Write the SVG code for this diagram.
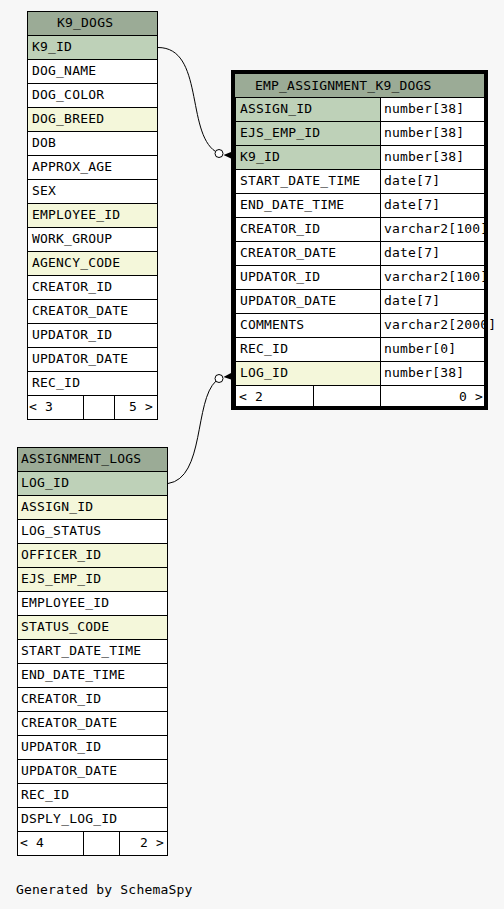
<svg xmlns="http://www.w3.org/2000/svg" width="504" height="909" viewBox="0 0 504 909">
<style>
text{font-family:"DejaVu Sans Mono","Liberation Mono",monospace;font-size:13px;letter-spacing:0.2px;fill:#000}
.c{stroke:#000;stroke-width:1}
.h{fill:#9bab96}
.p{fill:#bed1b8}
.i{fill:#f4f7da}
.w{fill:#ffffff}
.e{fill:none;stroke:#000;stroke-width:1}
.end{text-anchor:end}
</style>
<rect width="504" height="909" fill="#f7f7f7"/>
<g id="K9_DOGS">
<rect class="c h" x="27.5" y="11.5" width="130" height="24"/>
<text x="57" y="27">K9_DOGS</text>
<rect class="c p" x="27.5" y="35.5" width="130" height="24"/><text x="32" y="51">K9_ID</text>
<rect class="c w" x="27.5" y="59.5" width="130" height="24"/><text x="32" y="75">DOG_NAME</text>
<rect class="c w" x="27.5" y="83.5" width="130" height="24"/><text x="32" y="99">DOG_COLOR</text>
<rect class="c i" x="27.5" y="107.5" width="130" height="24"/><text x="32" y="123">DOG_BREED</text>
<rect class="c w" x="27.5" y="131.5" width="130" height="24"/><text x="32" y="147">DOB</text>
<rect class="c w" x="27.5" y="155.5" width="130" height="24"/><text x="32" y="171">APPROX_AGE</text>
<rect class="c w" x="27.5" y="179.5" width="130" height="24"/><text x="32" y="195">SEX</text>
<rect class="c i" x="27.5" y="203.5" width="130" height="24"/><text x="32" y="219">EMPLOYEE_ID</text>
<rect class="c w" x="27.5" y="227.5" width="130" height="24"/><text x="32" y="243">WORK_GROUP</text>
<rect class="c i" x="27.5" y="251.5" width="130" height="24"/><text x="32" y="267">AGENCY_CODE</text>
<rect class="c w" x="27.5" y="275.5" width="130" height="24"/><text x="32" y="291">CREATOR_ID</text>
<rect class="c w" x="27.5" y="299.5" width="130" height="24"/><text x="32" y="315">CREATOR_DATE</text>
<rect class="c w" x="27.5" y="323.5" width="130" height="24"/><text x="32" y="339">UPDATOR_ID</text>
<rect class="c w" x="27.5" y="347.5" width="130" height="24"/><text x="32" y="363">UPDATOR_DATE</text>
<rect class="c w" x="27.5" y="371.5" width="130" height="24"/><text x="32" y="387">REC_ID</text>
<rect class="c w" x="27.5" y="395.5" width="56" height="24"/>
<rect class="c w" x="83.5" y="395.5" width="31" height="24"/>
<rect class="c w" x="114.5" y="395.5" width="43" height="24"/>
<text x="29" y="411">&lt; 3</text>
<text class="end" x="153" y="411">5 &gt;</text>
</g>
<g id="ASSIGNMENT_LOGS">
<rect class="c h" x="17.5" y="447.5" width="150" height="24"/>
<text x="21" y="463">ASSIGNMENT_LOGS</text>
<rect class="c p" x="17.5" y="471.5" width="150" height="24"/><text x="21" y="487">LOG_ID</text>
<rect class="c i" x="17.5" y="495.5" width="150" height="24"/><text x="21" y="511">ASSIGN_ID</text>
<rect class="c w" x="17.5" y="519.5" width="150" height="24"/><text x="21" y="535">LOG_STATUS</text>
<rect class="c i" x="17.5" y="543.5" width="150" height="24"/><text x="21" y="559">OFFICER_ID</text>
<rect class="c i" x="17.5" y="567.5" width="150" height="24"/><text x="21" y="583">EJS_EMP_ID</text>
<rect class="c w" x="17.5" y="591.5" width="150" height="24"/><text x="21" y="607">EMPLOYEE_ID</text>
<rect class="c i" x="17.5" y="615.5" width="150" height="24"/><text x="21" y="631">STATUS_CODE</text>
<rect class="c w" x="17.5" y="639.5" width="150" height="24"/><text x="21" y="655">START_DATE_TIME</text>
<rect class="c w" x="17.5" y="663.5" width="150" height="24"/><text x="21" y="679">END_DATE_TIME</text>
<rect class="c w" x="17.5" y="687.5" width="150" height="24"/><text x="21" y="703">CREATOR_ID</text>
<rect class="c w" x="17.5" y="711.5" width="150" height="24"/><text x="21" y="727">CREATOR_DATE</text>
<rect class="c w" x="17.5" y="735.5" width="150" height="24"/><text x="21" y="751">UPDATOR_ID</text>
<rect class="c w" x="17.5" y="759.5" width="150" height="24"/><text x="21" y="775">UPDATOR_DATE</text>
<rect class="c w" x="17.5" y="783.5" width="150" height="24"/><text x="21" y="799">REC_ID</text>
<rect class="c w" x="17.5" y="807.5" width="150" height="24"/><text x="21" y="823">DSPLY_LOG_ID</text>
<rect class="c w" x="17.5" y="831.5" width="66" height="24"/>
<rect class="c w" x="83.5" y="831.5" width="36" height="24"/>
<rect class="c w" x="119.5" y="831.5" width="48" height="24"/>
<text x="20" y="847">&lt; 4</text>
<text class="end" x="164" y="847">2 &gt;</text>
</g>
<g id="EMP_ASSIGNMENT_K9_DOGS">
<rect class="h" x="235" y="74" width="249" height="23.5"/>
<text x="255" y="90">EMP_ASSIGNMENT_K9_DOGS</text>
<rect class="c p" x="235.5" y="97.5" width="145" height="24"/><rect class="c w" x="380.5" y="97.5" width="104" height="24"/>
<text x="240" y="113">ASSIGN_ID</text><text x="384" y="113">number[38]</text>
<rect class="c p" x="235.5" y="121.5" width="145" height="24"/><rect class="c w" x="380.5" y="121.5" width="104" height="24"/>
<text x="240" y="137">EJS_EMP_ID</text><text x="384" y="137">number[38]</text>
<rect class="c p" x="235.5" y="145.5" width="145" height="24"/><rect class="c w" x="380.5" y="145.5" width="104" height="24"/>
<text x="240" y="161">K9_ID</text><text x="384" y="161">number[38]</text>
<rect class="c w" x="235.5" y="169.5" width="145" height="24"/><rect class="c w" x="380.5" y="169.5" width="104" height="24"/>
<text x="240" y="185">START_DATE_TIME</text><text x="384" y="185">date[7]</text>
<rect class="c w" x="235.5" y="193.5" width="145" height="24"/><rect class="c w" x="380.5" y="193.5" width="104" height="24"/>
<text x="240" y="209">END_DATE_TIME</text><text x="384" y="209">date[7]</text>
<rect class="c w" x="235.5" y="217.5" width="145" height="24"/><rect class="c w" x="380.5" y="217.5" width="104" height="24"/>
<text x="240" y="233">CREATOR_ID</text><text x="384" y="233">varchar2[100]</text>
<rect class="c w" x="235.5" y="241.5" width="145" height="24"/><rect class="c w" x="380.5" y="241.5" width="104" height="24"/>
<text x="240" y="257">CREATOR_DATE</text><text x="384" y="257">date[7]</text>
<rect class="c w" x="235.5" y="265.5" width="145" height="24"/><rect class="c w" x="380.5" y="265.5" width="104" height="24"/>
<text x="240" y="281">UPDATOR_ID</text><text x="384" y="281">varchar2[100]</text>
<rect class="c w" x="235.5" y="289.5" width="145" height="24"/><rect class="c w" x="380.5" y="289.5" width="104" height="24"/>
<text x="240" y="305">UPDATOR_DATE</text><text x="384" y="305">date[7]</text>
<rect class="c w" x="235.5" y="313.5" width="145" height="24"/><rect class="c w" x="380.5" y="313.5" width="104" height="24"/>
<text x="240" y="329">COMMENTS</text><text x="384" y="329">varchar2[2000]</text>
<rect class="c w" x="235.5" y="337.5" width="145" height="24"/><rect class="c w" x="380.5" y="337.5" width="104" height="24"/>
<text x="240" y="353">REC_ID</text><text x="384" y="353">number[0]</text>
<rect class="c i" x="235.5" y="361.5" width="145" height="24"/><rect class="c w" x="380.5" y="361.5" width="104" height="24"/>
<text x="240" y="377">LOG_ID</text><text x="384" y="377">number[38]</text>
<rect class="c w" x="235.5" y="385.5" width="78" height="24"/>
<rect class="c w" x="313.5" y="385.5" width="67" height="24"/>
<rect class="c w" x="380.5" y="385.5" width="104" height="24"/>
<text x="239" y="401">&lt; 2</text>
<text class="end" x="483" y="401">0 &gt;</text>
<rect x="233" y="72" width="253" height="336" fill="none" stroke="#000" stroke-width="4"/>
</g>
<g id="connectors">
<path class="e" d="M158,47.5 C204,47.5 186,132 215.5,151.5"/>
<circle cx="219" cy="153.5" r="4" fill="#fff" stroke="#000" stroke-width="1"/>
<polygon points="223.5,155 231,152 231,158.5" fill="#000"/>
<path class="e" d="M168,483.5 C205,478 194,401 216,381"/>
<circle cx="219" cy="378.5" r="4" fill="#fff" stroke="#000" stroke-width="1"/>
<polygon points="223.5,377 231,373 231,379.5" fill="#000"/>
</g>
<text x="16" y="894">Generated by SchemaSpy</text>
</svg>
